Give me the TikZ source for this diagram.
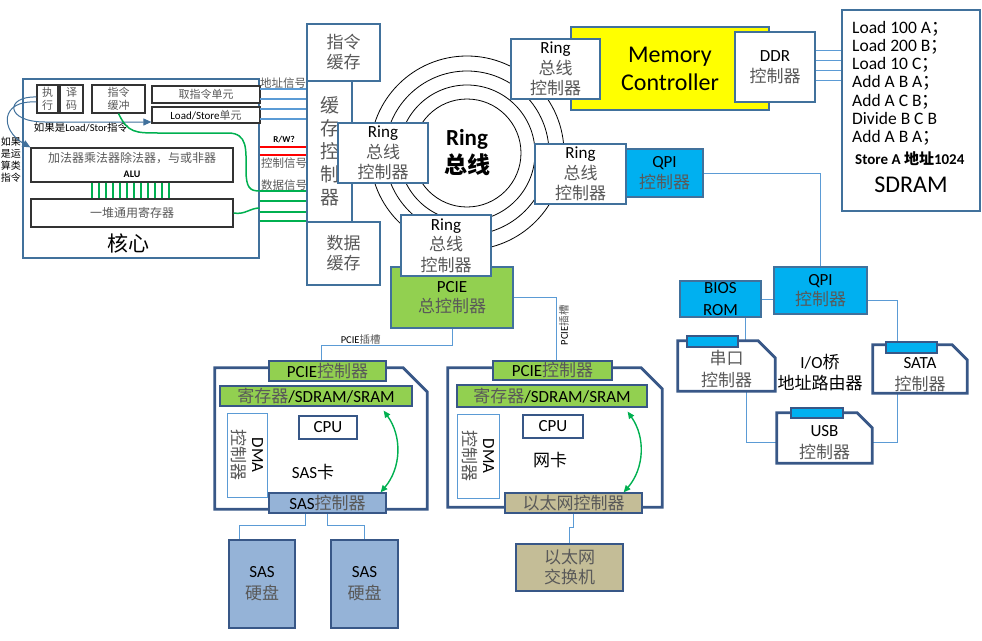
\documentclass[tikz,border=0pt]{standalone}
\usepackage{fontspec}
\setmainfont{Carlito}
\newfontfamily\cjk{Noto Sans CJK SC}
\usetikzlibrary{arrows.meta}
\definecolor{boxblue}{RGB}{65,113,156}
\definecolor{cardblue}{RGB}{56,87,135}
\definecolor{linkblue}{RGB}{91,155,213}
\definecolor{qpicyan}{RGB}{0,176,240}
\definecolor{pciegreen}{RGB}{146,208,80}
\definecolor{sasblue}{RGB}{149,179,215}
\definecolor{switchkhaki}{RGB}{196,189,151}
\definecolor{memyellow}{RGB}{255,255,0}
\definecolor{busgreen}{RGB}{0,176,80}
\definecolor{zhgray}{RGB}{89,89,89}
\newcommand{\zh}[1]{{\cjk #1}}
\newcommand{\zg}[1]{{\cjk\color{zhgray}#1}}
\newcommand{\ringtxt}{Ring\\\zg{总线}\\\zg{控制器}}
\newcommand{\cardoutline}[2]{\draw [card] (#1.south west) -- (#1.north west) -- ([xshift=-#2]#1.north east) -- ([yshift=-#2]#1.north east) -- (#1.south east) -- cycle;}
\tikzset{
  box/.style={draw=boxblue, line width=1.2pt, fill=white, inner sep=0pt, align=center, font=\fontsize{17}{20.5}\selectfont},
  corepart/.style={draw=black!80, line width=1.2pt, fill=white, inner sep=0pt, align=center, font=\fontsize{11}{12.5}\selectfont},
  card/.style={draw=cardblue, line width=2.8pt, line join=miter},
  tab/.style={draw=cardblue, line width=1.2pt, inner sep=0pt, align=center, font=\fontsize{17}{20}\selectfont},
  cardtext/.style={inner sep=0pt, align=center, font=\fontsize{17}{22}\selectfont},
  dmabox/.style={draw=linkblue, line width=0.8pt, fill=white, inner sep=0pt, align=center, rotate=-90, font=\fontsize{17}{20}\selectfont},
  link/.style={draw=linkblue, line width=0.9pt},
  bus/.style={line width=1.4pt},
  greenarrow/.style={draw=busgreen, line width=1.4pt, {Triangle[length=7pt,width=6pt]}-{Triangle[length=7pt,width=6pt]}},
  corearrow/.style={draw=boxblue, line width=1pt, -{Triangle[length=8pt,width=7pt]}},
  lbl/.style={inner sep=1pt, align=center}
}
\begin{document}
\begin{tikzpicture}[x=1pt, y=-1pt]
  \useasboundingbox (0,0) rectangle (982,640);

  \node [box, minimum width=236pt, minimum height=179pt] (core) at (141,168.5) {};
  \node [lbl, font=\fontsize{21}{24}\selectfont] (coreLbl) at (128,243) {\zh{核心}};
  \node [corepart, minimum width=21pt, minimum height=28pt] (exec) at (47.5,99) {\zg{执}\\\zg{行}};
  \node [corepart, minimum width=23pt, minimum height=28pt] (decode) at (71.5,99) {\zg{译}\\\zg{码}};
  \node [corepart, minimum width=53pt, minimum height=28pt] (ibuf) at (118.5,99) {\zg{指令}\\\zg{缓冲}};
  \node [corepart, minimum width=108pt, minimum height=17pt] (fetch) at (206,94.5) {\zg{取指令单元}};
  \node [corepart, minimum width=108pt, minimum height=16pt] (lsu) at (206,115) {Load/Store\zg{单元}};
  \node [corepart, minimum width=202pt, minimum height=34pt, font=\fontsize{12}{15}\selectfont] (alu) at (132,165) {\zg{加法器乘法器除法器，与或非器}\\{\fontsize{10}{12}\selectfont\bfseries ALU}};
  \node [corepart, minimum width=202pt, minimum height=28pt, font=\fontsize{12}{15}\selectfont] (regs) at (132,213) {\zg{一堆通用寄存器}};
  \foreach \x in {92,99,...,169}
    \draw [busgreen, line width=1.2pt] (\x,0 |- alu.south) -- (\x,0 |- regs.north);

  \node [lbl, font=\fontsize{10.5}{12}\selectfont] (lsHint) at (81,128) {\zh{如果是}Load/Stor\zh{指令}};
  \node [lbl, font=\fontsize{10}{12}\selectfont] (aluHint) at (11,160) {\zh{如果}\\\zh{是运}\\\zh{算类}\\\zh{指令}};
  \draw [corearrow] ([yshift=2pt]exec.west) .. controls (5,96) and (5,122) .. (45,122) -- (lsu.west |- 0,122);
  \draw [corearrow] ([yshift=-3pt]exec.west) .. controls (0,100) and (0,130) .. (alu.north west);
  \draw [busgreen, line width=1.5pt] (ibuf.south) .. controls (128,133) and (135,133) .. (160,133) -- (228,133) .. controls (248,133) and (246,150) .. (246,170) .. controls (246,188) and (250,191) .. (core.east |- 0,191);
  \draw [busgreen, line width=1.5pt] (regs.east) .. controls (245,215) and (250,208) .. (core.east |- 0,208);

  \node [box, minimum width=73pt, minimum height=57pt, font=\fontsize{17}{20}\selectfont] (icache) at (343.5,52.5) {\zg{指令}\\\zg{缓存}};
  \node [box, minimum width=45pt, minimum height=141pt, font=\fontsize{19}{23}\selectfont] (cachectl) at (329.5,151.5) {\zg{缓}\\\zg{存}\\\zg{控}\\\zg{制}\\\zg{器}};
  \node [box, minimum width=73pt, minimum height=63pt, font=\fontsize{17}{20}\selectfont] (dcache) at (343.5,253.5) {\zg{数据}\\\zg{缓存}};

  \foreach \y in {89,99,109,119}
    \draw [bus, linkblue] (core.east |- 0,\y) -- (cachectl.west |- 0,\y);
  \foreach \y in {147,155}
    \draw [bus, red] (core.east |- 0,\y) -- (cachectl.west |- 0,\y);
  \foreach \y in {191,201,212,221}
    \draw [bus, busgreen] (core.east |- 0,\y) -- (cachectl.west |- 0,\y);
  \node [lbl, font=\fontsize{11.5}{13}\selectfont] (addrLbl) at (283,83) {\zg{地址信号}};
  \node [lbl, font=\fontsize{9}{11}\selectfont\bfseries] (rwLbl) at (284,140) {R/W?};
  \node [lbl, font=\fontsize{11.5}{13}\selectfont] (ctrlLbl) at (284,163) {\zg{控制信号}};
  \node [lbl, font=\fontsize{11.5}{13}\selectfont] (dataLbl) at (284,185) {\zg{数据信号}};

  \coordinate (ringC) at (467,153);
  \foreach \r in {54,68,82,97}
    \draw [black, line width=0.8pt] (ringC) circle (\r pt);
  \node [lbl, font=\fontsize{23}{28}\selectfont\bfseries] (ringLbl) at (ringC) {Ring\\\zh{总线}};

  \node [box, fill=pciegreen, minimum width=122pt, minimum height=61pt] (pcie) at (452,297.5) {PCIE\\\zg{总控制器}};
  \node [box, minimum width=90pt, minimum height=60pt] (ringL) at (383,153) {\ringtxt};
  \node [box, minimum width=90pt, minimum height=61pt] (ringB) at (446,245.5) {\ringtxt};

  \node [box, fill=memyellow, minimum width=198pt, minimum height=83pt, font=\fontsize{24}{28}\selectfont] (memctl) at (670,68.5) {Memory\\Controller};
  \node [box, minimum width=89pt, minimum height=60pt] (ringT) at (555.5,69) {\ringtxt};
  \node [box, minimum width=80pt, minimum height=70pt] (ddr) at (775,67) {DDR\\\zg{控制器}};
  \node [box, minimum width=138pt, minimum height=201pt] (sdram) at (911,110.5) {};
  \foreach \y in {50,60,70,80}
    \draw [link] (ddr.east |- 0,\y) -- (sdram.west |- 0,\y);
  \foreach \t [count=\i] in {Load 100 A\zh{；}, Load 200 B\zh{；}, Load 10 C\zh{；}, Add A B A\zh{；}, Add A C B\zh{；}, Divide B C B, Add A B A\zh{；}}
    \node [anchor=base west, inner sep=0pt, font=\fontsize{17.5}{18}\selectfont] (prog\i) at (852,{14.7+18.3*\i}) {\t};
  \node [anchor=base west, inner sep=0pt, font=\fontsize{15}{18}\selectfont\bfseries] (store) at (855,164) {Store A \zh{地址}1024};
  \node [lbl, font=\fontsize{24}{28}\selectfont] (sdramLbl) at (911,185) {SDRAM};

  \node [box, fill=qpicyan, minimum width=77pt, minimum height=48pt] (qpi1) at (664.5,173) {QPI\\\zg{控制器}};
  \node [box, minimum width=91pt, minimum height=60pt] (ringR) at (580.5,174) {\ringtxt};

  \node [box, fill=qpicyan, minimum width=93pt, minimum height=47pt] (qpi2) at (820.5,290.5) {QPI\\\zg{控制器}};
  \node [box, fill=qpicyan, minimum width=81pt, minimum height=36pt, font=\fontsize{17}{22}\selectfont] (bios) at (720.5,299) {BIOS\\ROM};
  \node [inner sep=0pt, minimum width=97pt, minimum height=50pt] (serial) at (726.5,366) {};
  \node [inner sep=0pt, minimum width=94pt, minimum height=48pt] (sata) at (920,369) {};
  \node [inner sep=0pt, minimum width=95pt, minimum height=50pt] (usb) at (824.5,438) {};
  \node [cardtext] (serialTxt) at (726.5,369.5) {\zg{串口}\\\zg{控制器}};
  \node [cardtext] (sataTxt) at (920,374.5) {SATA\\\zg{控制器}};
  \node [cardtext] (usbTxt) at (824.5,443) {USB\\\zg{控制器}};
  \node [lbl, font=\fontsize{17}{21}\selectfont] (ioLbl) at (820,373) {I/O\zh{桥}\\\zh{地址路由器}};
  \draw [link] (qpi1.east) -| (qpi2.north);
  \draw [link] (bios.east) -- (bios.east -| qpi2.west);
  \draw [link] ([yshift=-10pt]qpi2.east) -| ([xshift=-23pt]sata.north);
  \draw [link] ([xshift=25pt]bios.south) -- ([xshift=25pt]bios.south |- serial.north);
  \draw [link] ([xshift=20pt]serial.south) |- ([yshift=-4pt]usb.west);
  \draw [link] ([xshift=-23pt]sata.south) |- ([yshift=-4pt]usb.east);
  \cardoutline{serial}{17pt}
  \cardoutline{sata}{15pt}
  \cardoutline{usb}{15pt}
  \node [tab, fill=qpicyan, minimum width=51pt, minimum height=11pt] (serialTab) at (712.5,341.5) {};
  \node [tab, fill=qpicyan, minimum width=51pt, minimum height=11pt] (sataTab) at (911.5,347.5) {};
  \node [tab, fill=qpicyan, minimum width=52pt, minimum height=10pt] (usbTab) at (817,413) {};

  \node [inner sep=0pt, minimum width=212pt, minimum height=141pt] (sas) at (321,438.5) {};
  \cardoutline{sas}{24pt}
  \node [tab, fill=pciegreen, minimum width=117pt, minimum height=20pt] (sasPcie) at (327.5,371) {PCIE\zg{控制器}};
  \node [tab, fill=pciegreen, minimum width=192pt, minimum height=20pt] (sasMem) at (316,396) {\zg{寄存器}/SDRAM/SRAM};
  \node [tab, fill=white, line width=1.8pt, minimum width=58pt, minimum height=23pt] (sasCpu) at (328,427.5) {CPU};
  \node [dmabox, minimum width=84pt, minimum height=40pt] (sasDma) at (247,455) {DMA\\\zg{控制器}};
  \node [lbl, font=\fontsize{17}{20}\selectfont] (sasLbl) at (313,472) {SAS\zh{卡}};
  \node [tab, fill=sasblue, minimum width=117pt, minimum height=20pt] (sasCtl) at (327.5,503) {SAS\zg{控制器}};
  \draw [greenarrow] ([xshift=-29pt,yshift=-4pt]sasMem.south east) to [bend left=38] ([xshift=-6pt]sasCtl.north east);
  \node [tab, fill=sasblue, line width=1.8pt, minimum width=66pt, minimum height=88pt, font=\fontsize{17}{22}\selectfont] (disk1) at (262,584) {SAS\\\zg{硬盘}};
  \node [tab, fill=sasblue, line width=1.8pt, minimum width=67pt, minimum height=88pt, font=\fontsize{17}{22}\selectfont] (disk2) at (364.5,584) {SAS\\\zg{硬盘}};
  \draw [link] ([xshift=-22pt]sasCtl.south) -- ++(0,12) -| ([xshift=-23pt]disk1.north);
  \draw [link] (sasCtl.south) -- ++(0,12) -| (disk2.north);
  \draw [link] (pcie.south) -- ++(0,17) -| ([xshift=-6pt]sasPcie.north) node [pos=0.35, above, inner sep=1pt, font=\fontsize{10.5}{12}\selectfont] (slotLbl1) {PCIE\zg{插槽}};

  \node [inner sep=0pt, minimum width=214pt, minimum height=139pt] (net) at (555,437.5) {};
  \cardoutline{net}{21pt}
  \node [tab, fill=pciegreen, minimum width=119pt, minimum height=19pt] (netPcie) at (552.5,370.5) {PCIE\zg{控制器}};
  \node [tab, fill=pciegreen, minimum width=190pt, minimum height=22pt] (netMem) at (552,396) {\zg{寄存器}/SDRAM/SRAM};
  \node [tab, fill=white, line width=1.8pt, minimum width=60pt, minimum height=23pt] (netCpu) at (553,426.5) {CPU};
  \node [dmabox, minimum width=84pt, minimum height=42pt] (netDma) at (478,456) {DMA\\\zg{控制器}};
  \node [lbl, font=\fontsize{17}{20}\selectfont] (netLbl) at (550,460) {\zh{网卡}};
  \node [tab, fill=switchkhaki, minimum width=137pt, minimum height=20pt] (netCtl) at (573.5,503) {\zg{以太网控制器}};
  \draw [greenarrow] ([xshift=-20pt,yshift=-4pt]netMem.south east) to [bend left=38] ([xshift=-19pt]netCtl.north east);
  \node [tab, fill=switchkhaki, line width=1.8pt, minimum width=107pt, minimum height=47pt, font=\fontsize{17}{20}\selectfont] (switch) at (569.5,567.5) {\zg{以太网}\\\zg{交换机}};
  \draw [link] (netCtl.south) -- ++(0,14) -| (switch.north);
  \draw [link] (pcie.east) -| ([xshift=4pt]netPcie.north) node [pos=0.72, rotate=90, anchor=north, inner sep=2pt, font=\fontsize{10.5}{12}\selectfont] (slotLbl2) {PCIE\zg{插槽}};
\end{tikzpicture}
\end{document}
